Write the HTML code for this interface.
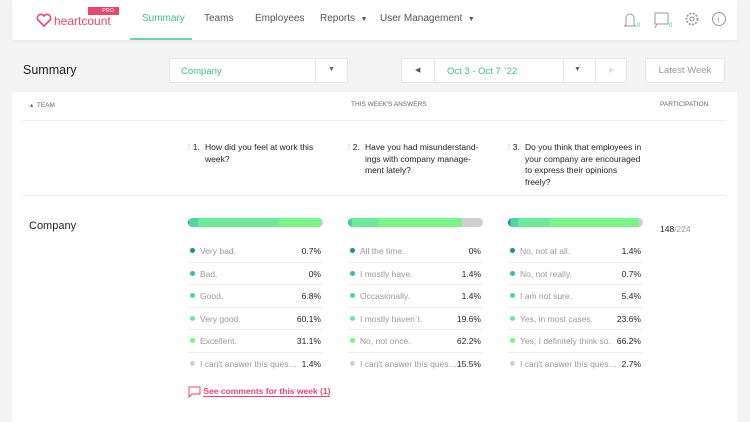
<!DOCTYPE html>
<html><head><meta charset="utf-8"><style>
*{box-sizing:border-box;margin:0;padding:0}
body{width:750px;height:413px;overflow:hidden;background:#f4f4f4;font-family:"Liberation Sans",sans-serif;position:relative;color:#222}
.abs{position:absolute}
#nav{left:12px;top:0;width:725px;height:40px;background:#fff;box-shadow:0 1px 3px rgba(0,0,0,.08)}
.nl{position:absolute;top:13px;font-size:10px;color:#555}
.box{position:absolute;background:#fff;border:1px solid #e4e4e4;border-radius:2px}
#card{left:12px;top:92px;width:725px;height:330px;background:#fff}
.q{position:absolute;top:142px;font-size:8.5px;line-height:11.5px;color:#222;width:136px;padding-left:17px}
.q .n{position:absolute;left:0;top:0;white-space:nowrap}
.row{position:absolute;font-size:8.5px;color:#999;border-bottom:1px solid #eee;height:22.6px;width:135px}
.row .d{position:absolute;left:2px;top:8px;width:5px;height:5px;border-radius:50%}
.row .t{position:absolute;left:12px;top:6px;white-space:nowrap;overflow:hidden;text-overflow:ellipsis;width:98px}
.row .v{position:absolute;right:2px;top:6px;color:#222}
.bar{position:absolute;top:218px;width:135px;height:9px;border-radius:5px;overflow:hidden;background:#d4d6d6;display:flex}
</style></head><body>
<div id="nav" class="abs"></div>
<svg class="abs" style="left:36px;top:13px" width="16" height="15"><path d="M8 13 L2 7 A3.3 3.3 0 0 1 8 3 A3.3 3.3 0 0 1 14 7 Z" fill="none" stroke="#e8476d" stroke-width="1.6"/></svg>
<div class="abs" style="left:54px;top:14px;font-size:12px;color:#e8476d">heartcount</div>
<div class="abs" style="left:88px;top:7px;width:31px;height:8px;background:#e8476d;color:#fff;font-size:5.5px;text-align:right;padding-right:5px;line-height:8px">PRO</div>
<div class="nl" style="left:142px;color:#3cbf86">Summary</div>
<div class="abs" style="left:130px;top:38px;width:62px;height:2px;background:#6fd3a8"></div>
<div class="nl" style="left:204px">Teams</div>
<div class="nl" style="left:255px">Employees</div>
<div class="nl" style="left:320px">Reports &nbsp;<span style="font-size:7px">▼</span></div>
<div class="nl" style="left:380px">User Management &nbsp;<span style="font-size:7px">▼</span></div>
<svg class="abs" style="left:622px;top:10px" width="120" height="20">
<path d="M4 15 L4 8 A4 4 0 0 1 12 8 L12 15 L14 16 L2 16 Z" fill="none" stroke="#999" stroke-width="1"/><text x="15" y="17" font-size="6" fill="#3cbf86">0</text>
<rect x="33" y="3" width="13" height="11" fill="none" stroke="#999"/><path d="M35 14 L33 18" stroke="#999"/><text x="47" y="17" font-size="6" fill="#3cbf86">0</text>
<circle cx="70" cy="9" r="5.5" fill="none" stroke="#999" stroke-width="1.8" stroke-dasharray="2 1.3"/><circle cx="70" cy="9" r="2" fill="none" stroke="#999"/>
<circle cx="97" cy="9" r="6.5" fill="none" stroke="#999"/><text x="95.5" y="12.5" font-size="8" fill="#999">i</text></svg>
<div class="abs" style="left:23px;top:63px;font-size:12.5px">Summary</div>
<div class="box" style="left:169px;top:58px;width:179px;height:25px"><span class="abs" style="left:11px;top:7px;font-size:9.5px;color:#3cbf86">Company</span><span class="abs" style="left:145px;top:0;width:1px;height:23px;background:#e4e4e4"></span><span class="abs" style="left:158px;top:7px;font-size:7px;color:#666">▼</span></div>
<div class="box" style="left:401px;top:58px;width:226px;height:25px"><span class="abs" style="left:13px;top:7px;font-size:7px;color:#555">◀</span><span class="abs" style="left:32px;top:0;width:1px;height:23px;background:#e4e4e4"></span><span class="abs" style="left:45px;top:7px;font-size:9.5px;color:#3cbf86">Oct 3 - Oct 7 `22</span><span class="abs" style="left:161px;top:0;width:1px;height:23px;background:#e4e4e4"></span><span class="abs" style="left:172px;top:7px;font-size:7px;color:#666">▼</span><span class="abs" style="left:193px;top:0;width:1px;height:23px;background:#e4e4e4"></span><span class="abs" style="left:207px;top:7px;font-size:7px;color:#ddd">▶</span></div>
<div class="box" style="left:645px;top:58px;width:80px;height:25px;font-size:9.5px;color:#999;text-align:center;line-height:23px">Latest Week</div>
<div id="card" class="abs"></div>
<div class="abs" style="left:30px;top:101px;font-size:6.5px;color:#666">▴ &nbsp;TEAM</div>
<div class="abs" style="left:351px;top:101px;font-size:6.5px;color:#666">THIS WEEK'S ANSWERS</div>
<div class="abs" style="left:660px;top:101px;font-size:6.5px;color:#666">PARTICIPATION</div>
<div class="abs" style="left:23px;top:120px;width:703px;height:1px;background:#eee"></div>
<div class="abs" style="left:23px;top:195px;width:703px;height:1px;background:#eee"></div>
<div class="q" style="left:188px"><span class="n"><span style="color:#aaa">⁞</span> 1.</span>How did you feel at work this week?</div>
<div class="q" style="left:348px"><span class="n"><span style="color:#aaa">⁞</span> 2.</span>Have you had misunderstand-ings with company manage-ment lately?</div>
<div class="q" style="left:508px"><span class="n"><span style="color:#aaa">⁞</span> 3.</span>Do you think that employees in your company are encouraged to express their opinions freely?</div>
<div class="abs" style="left:29px;top:220px;font-size:11px">Company</div>
<div class="abs" style="left:660px;top:224px;font-size:8.5px">148<span style="color:#999">/224</span></div>
<div class="abs" style="left:188px;top:386px;font-size:8.5px;color:#e8476d;font-weight:bold">
<svg width="13" height="12" style="vertical-align:middle"><path d="M1 1 H12 V8 H4 L1 11 Z" fill="none" stroke="#e8476d"/></svg>&nbsp;<span style="border-bottom:1px solid #e8476d">See comments for this week (1)</span></div>
<div id="charts"></div>
<script>
const colors=["#1d8aa0","#3db6c2","#4fd4a2","#6ee99a","#7af486","#cfd1d1"];
const q1Labels=["Very bad.","Bad.","Good.","Very good.","Excellent.","I can't answer this question."];
const q1Values=[0.7,0,6.8,60.1,31.1,1.4];
const q2Labels=["All the time.","I mostly have.","Occasionally.","I mostly haven`t.","No, not once.","I can't answer this question."];
const q2Values=[0,1.4,1.4,19.6,62.2,15.5];
const q3Labels=["No, not at all.","No, not really.","I am not sure.","Yes, in most cases.","Yes, I definitely think so.","I can't answer this question."];
const q3Values=[1.4,0.7,5.4,23.6,66.2,2.7];
const qs=[[q1Labels,q1Values,188],[q2Labels,q2Values,348],[q3Labels,q3Values,508]];
const root=document.getElementById('charts');
qs.forEach(([labels,vals,x],qi)=>{
  const bar=document.createElement('div');bar.className='bar';bar.style.left=x+'px';
  
  
  vals.forEach((v,i)=>{const s=document.createElement('div');s.style.width=(v/100*135)+'px';s.style.height='9px';s.style.background=colors[i];
    
    
    bar.appendChild(s);});
  root.appendChild(bar);
  labels.forEach((l,i)=>{const r=document.createElement('div');r.className='row';r.style.left=x+'px';r.style.top=(240+i*22.6)+'px';
    if(i==5)r.style.borderBottom='none';
    
    
    r.innerHTML='<span class="d" style="background:'+colors[i]+'"></span><span class="t">'+l+'</span><span class="v">'+vals[i]+'%</span>';
    root.appendChild(r);});
});
</script>
</body></html>
